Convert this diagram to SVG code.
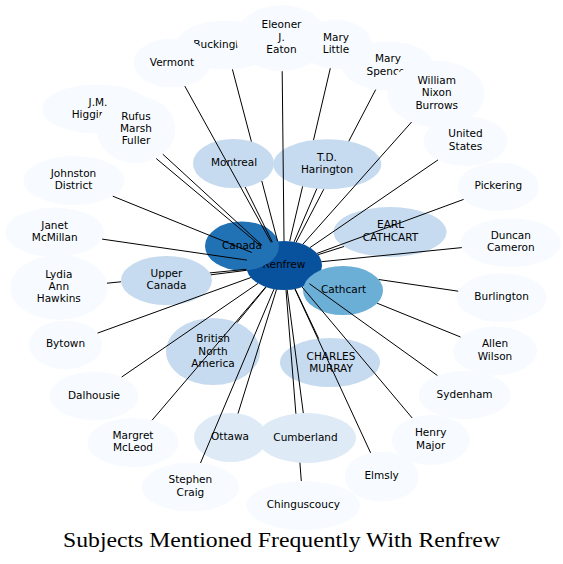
<svg xmlns="http://www.w3.org/2000/svg" width="563" height="564" viewBox="0 0 563 564">
<style>
.n0{fill:#f7fbff;stroke:none}
.n1{fill:#deebf7;stroke:none}
.n2{fill:#c6dbef;stroke:none}
.n3{fill:#6baed6;stroke:none}
.n4{fill:#2171b5;stroke:none}
.n5{fill:#08519c;stroke:none}
text{font-family:"DejaVu Sans","Liberation Sans",sans-serif;font-size:10.5px;fill:#000;text-anchor:middle}
#edges line{stroke:#000;stroke-width:1;fill:none}
.title{font-family:"Liberation Serif","DejaVu Serif",serif;font-size:20px}
</style>
<rect width="563" height="564" fill="#fff"/>
<g id="nodes">
<g id="buckingham"><ellipse class="n0" cx="226" cy="45" rx="50" ry="24.5"/><text x="226" y="47.5">Buckingham</text></g>
<g id="vermont"><ellipse class="n0" cx="172" cy="63" rx="38.5" ry="24.5"/><text x="172" y="65.5">Vermont</text></g>
<g id="eleoner"><ellipse class="n0" cx="281.5" cy="38" rx="45.5" ry="33"/><text x="281.5" y="28.2">Eleoner</text><text x="281.5" y="40.5">J.</text><text x="281.5" y="52.8">Eaton</text></g>
<g id="marylittle"><ellipse class="n0" cx="336" cy="44.5" rx="36" ry="24.5"/><text x="336" y="40.9">Mary</text><text x="336" y="53.2">Little</text></g>
<g id="maryspencer"><ellipse class="n0" cx="388" cy="66" rx="46" ry="24.5"/><text x="388" y="62.4">Mary</text><text x="388" y="74.7">Spencer</text></g>
<g id="william"><ellipse class="n0" cx="436" cy="93.8" rx="48.5" ry="33.2"/><text x="436.7" y="84">William</text><text x="436.7" y="96.3">Nixon</text><text x="436.7" y="108.6">Burrows</text></g>
<g id="unitedstates"><ellipse class="n0" cx="465.5" cy="141" rx="42" ry="25"/><text x="465.5" y="137.4">United</text><text x="465.5" y="149.7">States</text></g>
<g id="pickering"><ellipse class="n0" cx="498.3" cy="186.7" rx="40.7" ry="24.3"/><text x="498.3" y="189.2">Pickering</text></g>
<g id="duncan"><ellipse class="n0" cx="510.8" cy="242.7" rx="50" ry="24.4"/><text x="510.8" y="239.1">Duncan</text><text x="510.8" y="251.4">Cameron</text></g>
<g id="burlington"><ellipse class="n0" cx="501.6" cy="297.6" rx="45" ry="24.4"/><text x="501.6" y="300.1">Burlington</text></g>
<g id="allenwilson"><ellipse class="n0" cx="495" cy="351" rx="42" ry="24.4"/><text x="495" y="347.4">Allen</text><text x="495" y="359.7">Wilson</text></g>
<g id="sydenham"><ellipse class="n0" cx="464.6" cy="395" rx="46" ry="24.2"/><text x="464.6" y="397.5">Sydenham</text></g>
<g id="henrymajor"><ellipse class="n0" cx="430.7" cy="440" rx="39" ry="25"/><text x="430.7" y="436.4">Henry</text><text x="430.7" y="448.7">Major</text></g>
<g id="elmsly"><ellipse class="n0" cx="381.6" cy="476.7" rx="37" ry="25"/><text x="381.6" y="479.2">Elmsly</text></g>
<g id="chinguscoucy"><ellipse class="n0" cx="303.3" cy="505.5" rx="56.7" ry="24.5"/><text x="303.3" y="508">Chinguscoucy</text></g>
<g id="stephencraig"><ellipse class="n0" cx="190.4" cy="487" rx="48.6" ry="24.5"/><text x="190.4" y="483.4">Stephen</text><text x="190.4" y="495.7">Craig</text></g>
<g id="margret"><ellipse class="n0" cx="133" cy="442.6" rx="45.6" ry="24.6"/><text x="133" y="439">Margret</text><text x="133" y="451.3">McLeod</text></g>
<g id="dalhousie"><ellipse class="n0" cx="94" cy="396" rx="44.2" ry="24.4"/><text x="94" y="398.5">Dalhousie</text></g>
<g id="bytown"><ellipse class="n0" cx="65.5" cy="344.8" rx="36.6" ry="24.4"/><text x="65.5" y="347.3">Bytown</text></g>
<g id="lydia"><ellipse class="n0" cx="58.8" cy="287.5" rx="48.7" ry="32.5"/><text x="58.8" y="277.8">Lydia</text><text x="58.8" y="290.1">Ann</text><text x="58.8" y="302.4">Hawkins</text></g>
<g id="janet"><ellipse class="n0" cx="54.7" cy="232.2" rx="49.3" ry="24.7"/><text x="54.7" y="228.5">Janet</text><text x="54.7" y="240.8">McMillan</text></g>
<g id="johnston"><ellipse class="n0" cx="74" cy="180.5" rx="50.5" ry="24.5"/><text x="73.5" y="176.9">Johnston</text><text x="73.5" y="189.2">District</text></g>
<g id="higgins"><ellipse class="n0" cx="97" cy="109" rx="55" ry="24.5"/><text x="98" y="105.5">J.M.</text><text x="71.7" y="117.8" style="text-anchor:start">Higgins</text></g>
<g id="rufus"><ellipse class="n0" cx="136" cy="129.5" rx="39.2" ry="33.8"/><text x="136" y="119.7">Rufus</text><text x="136" y="132">Marsh</text><text x="136" y="144.3">Fuller</text></g>
<g id="renfrew"><ellipse class="n5" cx="284" cy="265.5" rx="38" ry="24.5"/><text x="284" y="268">Renfrew</text></g>
<g id="canada"><ellipse class="n4" cx="242" cy="246" rx="37" ry="24.5"/><text x="242" y="248.5">Canada</text></g>
<g id="cathcart"><ellipse class="n3" cx="343" cy="290.5" rx="40" ry="24.5"/><text x="343.5" y="293">Cathcart</text></g>
<g id="montreal"><ellipse class="n2" cx="233.5" cy="163.5" rx="40.5" ry="24.5"/><text x="234" y="166">Montreal</text></g>
<g id="tdharington"><ellipse class="n2" cx="327.3" cy="164.2" rx="54" ry="25"/><text x="327" y="160.6">T.D.</text><text x="327" y="172.9">Harington</text></g>
<g id="earlcathcart"><ellipse class="n2" cx="390" cy="232" rx="56.5" ry="25"/><text x="390.5" y="228.4">EARL</text><text x="390.5" y="240.7">CATHCART</text></g>
<g id="uppercanada"><ellipse class="n2" cx="166.5" cy="280.5" rx="45.5" ry="24.5"/><text x="166.5" y="276.9">Upper</text><text x="166.5" y="289.2">Canada</text></g>
<g id="bna"><ellipse class="n2" cx="213" cy="351.5" rx="47" ry="33.5"/><text x="213" y="342.2">British</text><text x="213" y="354.5">North</text><text x="213" y="366.8">America</text></g>
<g id="charlesmurray"><ellipse class="n2" cx="330" cy="362.5" rx="50" ry="24.5"/><text x="331" y="359.5">CHARLES</text><text x="331" y="371.8">MURRAY</text></g>
<g id="ottawa"><ellipse class="n1" cx="230.5" cy="437.5" rx="36.5" ry="24.5"/><text x="230" y="440">Ottawa</text></g>
<g id="cumberland"><ellipse class="n1" cx="306.5" cy="438" rx="49.5" ry="25"/><text x="305.5" y="440.5">Cumberland</text></g>
</g>
<g id="edges">
<line x1="271.2" y1="242.4" x2="184.8" y2="86.1"/>
<line x1="277.6" y1="241.3" x2="261.8" y2="181"/>
<line x1="251.4" y1="141.5" x2="232.4" y2="69.3"/>
<line x1="284" y1="241" x2="282.2" y2="71.2"/>
<line x1="289.7" y1="241.3" x2="302.6" y2="186.4"/>
<line x1="313.5" y1="140.1" x2="330.3" y2="68.3"/>
<line x1="296.1" y1="242.3" x2="323.8" y2="189.2"/>
<line x1="348.8" y1="141.2" x2="375.7" y2="89.6"/>
<line x1="294.1" y1="241.9" x2="316.8" y2="188.7"/>
<line x1="272.4" y1="242.2" x2="245.1" y2="187"/>
<line x1="302.9" y1="244.2" x2="411.6" y2="122"/>
<line x1="310" y1="247.6" x2="438" y2="159.9"/>
<line x1="317" y1="253.4" x2="463.6" y2="199.4"/>
<line x1="318.1" y1="254.7" x2="344" y2="246.5"/>
<line x1="321.5" y1="261.7" x2="461.8" y2="247.6"/>
<line x1="378.7" y1="279.5" x2="458.2" y2="291.2"/>
<line x1="377.1" y1="303.2" x2="460.5" y2="337"/>
<line x1="309.4" y1="283.7" x2="437.4" y2="375.5"/>
<line x1="302.1" y1="287" x2="412.2" y2="418"/>
<line x1="294.9" y1="289" x2="370.6" y2="452.8"/>
<line x1="295.1" y1="288.9" x2="318.7" y2="338.6"/>
<line x1="287.2" y1="289.9" x2="303.3" y2="413.1"/>
<line x1="286" y1="290" x2="295.9" y2="413.7"/>
<line x1="299.9" y1="462.7" x2="301.3" y2="481"/>
<line x1="276.5" y1="289.5" x2="238" y2="413.5"/>
<line x1="274" y1="289.1" x2="200.5" y2="463"/>
<line x1="265.7" y1="287" x2="152.1" y2="420.2"/>
<line x1="266.1" y1="287.1" x2="236.9" y2="322.7"/>
<line x1="258" y1="283.4" x2="121.7" y2="377"/>
<line x1="250.9" y1="277.5" x2="97.6" y2="333.1"/>
<line x1="246.7" y1="270.3" x2="210.8" y2="274.8"/>
<line x1="246.4" y1="269.3" x2="209.8" y2="272.9"/>
<line x1="121" y1="281.8" x2="107" y2="283.2"/>
<line x1="246.9" y1="260.1" x2="102.1" y2="239.1"/>
<line x1="251.8" y1="252.5" x2="112.8" y2="196.2"/>
<line x1="262.2" y1="245.4" x2="162.8" y2="154.2"/>
<line x1="260.8" y1="246.1" x2="156.2" y2="158.5"/>
</g>
<text class="title" x="281.5" y="547" textLength="437" lengthAdjust="spacingAndGlyphs">Subjects Mentioned Frequently With Renfrew</text>
</svg>
